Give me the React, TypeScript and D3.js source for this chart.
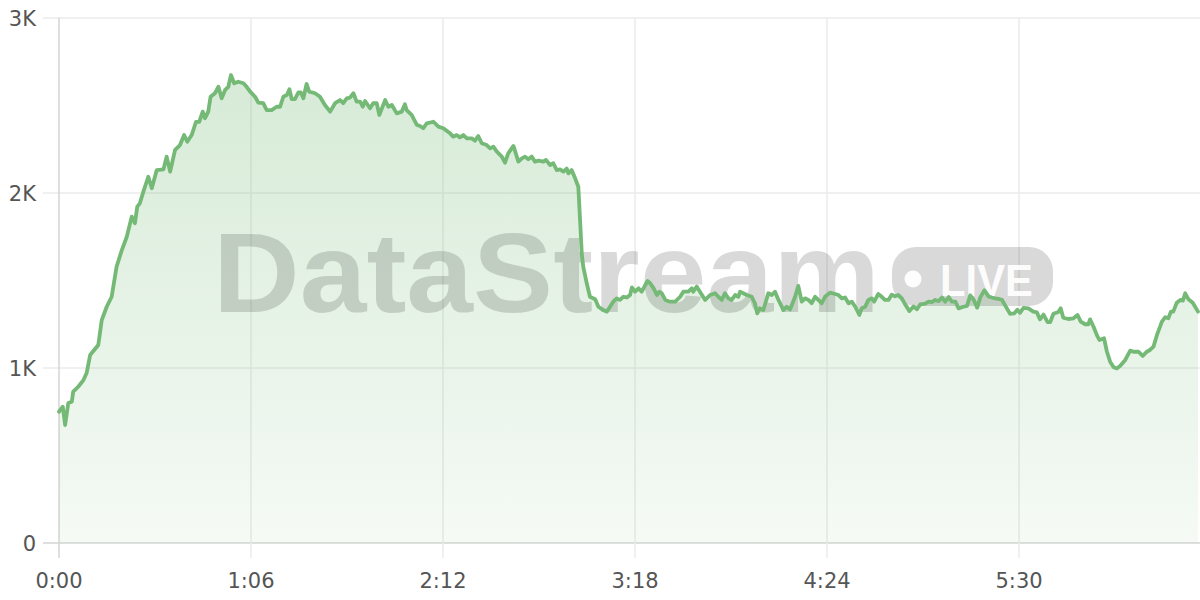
import React from "react";
import * as d3 from "d3";

// Elapsed time (seconds) and live viewer counts
const timeSec = [
  0, 1.3, 2.1, 3.2, 4.4, 4.9, 6.6, 8.4, 9.5, 10.7, 13.5, 14.7, 16.4, 18.1, 19.8, 21.6, 23.3, 25.0, 26.1, 26.9,
  27.8, 29.0, 30.7, 31.9, 33.6, 35.9, 37.0, 38.2, 39.9, 41.6, 43.0, 44.1, 45.6, 47.1, 48.2, 49.4, 50.2, 51.3, 52.1, 53.6,
  54.8, 55.9, 57.1, 58.2, 59.1, 60.2, 61.6, 63.4, 64.5, 65.7, 67.4, 68.5, 70.2, 71.4, 73.1, 74.8, 76.0, 77.1, 78.3, 79.2,
  80.0, 81.1, 82.3, 83.1, 84.0, 85.1, 86.0, 88.0, 89.7, 91.4, 93.2, 94.9, 96.6, 97.7, 98.9, 100.0, 101.2, 102.3, 103.5, 104.4,
  105.2, 106.9, 108.0, 109.2, 110.1, 112.1, 113.2, 114.4, 116.1, 117.8, 118.9, 119.5, 121.2, 123.0, 124.1, 125.2, 126.4, 128.7, 130.4, 132.1,
  134.4, 135.5, 136.7, 137.8, 139.0, 140.2, 141.9, 143.0, 144.1, 145.3, 147.0, 148.2, 149.3, 150.5, 152.2, 153.3, 154.4, 156.2, 157.9, 159.1,
  160.2, 161.3, 162.5, 163.6, 164.8, 166.5, 167.4, 168.8, 169.9, 171.1, 172.2, 173.4, 174.5, 175.1, 176.2, 177.4, 178.5, 179.1, 179.7, 180.2,
  181.4, 182.5, 184.3, 185.4, 187.1, 188.3, 189.4, 190.5, 191.7, 192.8, 194.0, 195.2, 196.3, 196.9, 198.0, 199.2, 200.3, 201.5, 202.3, 203.2,
  204.4, 205.5, 206.4, 207.2, 208.4, 210.0, 211.8, 213.5, 214.6, 216.3, 217.5, 218.0, 219.2, 220.3, 222.1, 223.8, 225.5, 226.6, 227.8, 228.9,
  230.1, 231.2, 232.4, 233.5, 234.1, 235.2, 236.4, 238.1, 239.2, 240.0, 240.9, 242.1, 243.8, 245.0, 246.1, 247.3, 249.0, 250.1, 251.3, 253.0,
  254.1, 255.3, 256.4, 257.6, 258.7, 259.9, 261.0, 262.2, 263.3, 265.0, 266.8, 267.9, 269.1, 270.2, 271.4, 272.5, 273.7, 275.1, 275.9, 277.1,
  278.2, 279.4, 280.2, 281.6, 282.8, 283.9, 285.1, 286.2, 287.4, 288.5, 289.7, 290.8, 292.3, 293.7, 294.9, 296.0, 297.7, 298.9, 300.0, 301.2,
  302.3, 303.5, 304.6, 305.8, 306.9, 308.1, 309.2, 310.9, 312.1, 313.2, 314.4, 315.6, 316.7, 318.1, 319.5, 320.6, 321.8, 322.9, 324.1, 325.8,
  326.9, 328.3, 329.4, 330.3, 331.5, 333.2, 334.9, 336.1, 337.2, 338.4, 339.8, 340.7, 341.8, 343.5, 344.3, 345.2, 346.9, 348.7, 350.1, 351.2,
  352.7, 353.8, 354.4, 355.6, 356.7, 357.6, 359.2, 360.2, 361.3, 362.5, 363.6, 364.7, 366.5, 368.2, 369.3, 371.0, 372.5, 373.9, 375.0, 376.2,
  377.4, 379.1, 380.2, 381.3, 382.2, 383.0, 384.2, 385.4, 386.3, 387.1, 388.2, 389.7, 391.5,
];

const viewers = [
  750, 779, 674, 800, 807, 865, 893, 931, 971, 1074, 1131, 1274, 1350, 1407, 1579, 1674, 1750, 1865, 1827, 1922,
  1941, 2008, 2093, 2027, 2131, 2135, 2208, 2122, 2246, 2274, 2331, 2293, 2331, 2407, 2407, 2465, 2427, 2465, 2550, 2570,
  2607, 2541, 2589, 2607, 2674, 2627, 2636, 2627, 2607, 2579, 2550, 2516, 2513, 2474, 2474, 2493, 2493, 2550, 2560, 2593,
  2536, 2536, 2575, 2575, 2541, 2623, 2579, 2570, 2550, 2503, 2465, 2513, 2531, 2513, 2541, 2545, 2570, 2522, 2522, 2493,
  2526, 2484, 2513, 2513, 2446, 2531, 2493, 2503, 2455, 2465, 2507, 2474, 2446, 2389, 2383, 2370, 2398, 2407, 2379, 2370,
  2341, 2322, 2331, 2318, 2331, 2312, 2312, 2299, 2326, 2284, 2274, 2255, 2265, 2236, 2208, 2173, 2227, 2269, 2179, 2198,
  2208, 2193, 2208, 2179, 2185, 2179, 2189, 2160, 2170, 2131, 2135, 2122, 2140, 2112, 2131, 2084, 2036, 1846, 1650, 1579,
  1484, 1407, 1393, 1350, 1331, 1322, 1350, 1379, 1398, 1389, 1407, 1403, 1417, 1461, 1436, 1455, 1436, 1474, 1497, 1484,
  1455, 1417, 1436, 1427, 1389, 1379, 1379, 1407, 1436, 1436, 1455, 1436, 1465, 1436, 1389, 1417, 1427, 1407, 1389, 1427,
  1398, 1389, 1417, 1407, 1436, 1427, 1417, 1407, 1370, 1312, 1341, 1331, 1427, 1417, 1436, 1389, 1331, 1350, 1335, 1407,
  1469, 1379, 1398, 1389, 1370, 1407, 1389, 1370, 1407, 1431, 1423, 1417, 1398, 1403, 1370, 1379, 1350, 1303, 1341, 1350,
  1389, 1398, 1379, 1423, 1407, 1389, 1389, 1419, 1410, 1417, 1398, 1365, 1325, 1352, 1336, 1363, 1368, 1379, 1376, 1389,
  1382, 1403, 1379, 1405, 1379, 1379, 1341, 1350, 1355, 1415, 1390, 1345, 1405, 1444, 1409, 1403, 1398, 1395, 1390, 1341,
  1310, 1312, 1333, 1315, 1343, 1341, 1322, 1318, 1278, 1305, 1262, 1262, 1310, 1320, 1341, 1287, 1280, 1284, 1303, 1265,
  1250, 1250, 1278, 1236, 1189, 1160, 1170, 1093, 1036, 1004, 998, 1011, 1046, 1099, 1093, 1093, 1069, 1093, 1103, 1122,
  1189, 1265, 1290, 1284, 1322, 1322, 1373, 1389, 1385, 1427, 1393, 1373, 1322,
];

const xTickSeconds = [0, 66, 132, 198, 264, 330];
const yTickValues = [0, 1000, 2000, 3000];
const yTickLabels = ["0", "1K", "2K", "3K"];
const watermarkTitle = "DataStream";
const watermarkBadge = "LIVE";

const fmtTime = (s: number) => `${Math.floor(s / 60)}:${String(Math.round(s % 60)).padStart(2, "0")}`;

export default function App() {
  const W = 1200;
  const H = 600;
  const plotLeft = 59;
  const plotRight = 1198;
  const plotTop = 18;
  const plotBottom = 543;

  const data = timeSec.map((t, i) => ({ t, v: viewers[i] }));

  const x = d3.scaleLinear().domain([0, d3.max(timeSec) as number]).range([plotLeft, plotRight]);
  const y = d3.scaleLinear().domain([0, 3000]).range([plotBottom, plotTop]);

  const area = d3
    .area<{ t: number; v: number }>()
    .x((d) => x(d.t))
    .y0(y(0))
    .y1((d) => y(d.v));
  const line = d3
    .line<{ t: number; v: number }>()
    .x((d) => x(d.t))
    .y((d) => y(d.v));

  const green = "#74b976";
  const font = "'DejaVu Sans', Verdana, sans-serif";

  return (
    <svg
      width={W}
      height={H}
      style={{ position: "fixed", left: 0, top: 0, background: "#fff" }}
    >
      <defs>
        <linearGradient id="areaFill" x1="0" y1={plotTop} x2="0" y2={plotBottom} gradientUnits="userSpaceOnUse">
          <stop offset="0%" stopColor={green} stopOpacity={0.32} />
          <stop offset="100%" stopColor={green} stopOpacity={0.07} />
        </linearGradient>
      </defs>

      {/* horizontal grid */}
      {yTickValues.map((v, i) => (
        <g key={"y" + v}>
          <line x1={43} x2={W} y1={y(v)} y2={y(v)} stroke={v === 0 ? "#d4d4d4" : "#ebebeb"} strokeWidth={1.5} />
          <text
            x={36}
            y={y(v)}
            dy="0.36em"
            textAnchor="end"
            fontFamily={font}
            fontSize={21}
            fill="#555"
          >
            {yTickLabels[i]}
          </text>
        </g>
      ))}

      {/* vertical grid */}
      {xTickSeconds.map((s) => (
        <g key={"x" + s}>
          <line
            x1={x(s)}
            x2={x(s)}
            y1={plotTop}
            y2={558}
            stroke={s === 0 ? "#d4d4d4" : "#ebebeb"}
            strokeWidth={1.5}
          />
          <text x={x(s)} y={588} textAnchor="middle" fontFamily={font} fontSize={21} fill="#555">
            {fmtTime(s)}
          </text>
        </g>
      ))}

      <path d={area(data) ?? ""} fill="url(#areaFill)" />

      {/* watermark */}
      <g>
        <text
          x={213}
          y={312}
          fontFamily="'Liberation Sans', Arial, sans-serif"
          fontWeight="bold"
          fontSize={114}
          textLength={667}
          lengthAdjust="spacingAndGlyphs"
          fill="#000"
          fillOpacity={0.15}
        >
          {watermarkTitle}
        </text>
        <rect x={892} y={247} width={161} height={59} rx={24} fill="#000" fillOpacity={0.15} />
        <circle cx={913} cy={279} r={8.5} fill="#fff" fillOpacity={0.95} />
        <text
          x={940}
          y={296}
          fontFamily="'Liberation Sans', Arial, sans-serif"
          fontWeight="bold"
          fontSize={45}
          textLength={93}
          lengthAdjust="spacingAndGlyphs"
          fill="#fff"
          fillOpacity={0.95}
        >
          {watermarkBadge}
        </text>
      </g>

      <path
        d={line(data) ?? ""}
        fill="none"
        stroke={green}
        strokeWidth={3.8}
        strokeLinejoin="round"
        strokeLinecap="round"
      />
    </svg>
  );
}
